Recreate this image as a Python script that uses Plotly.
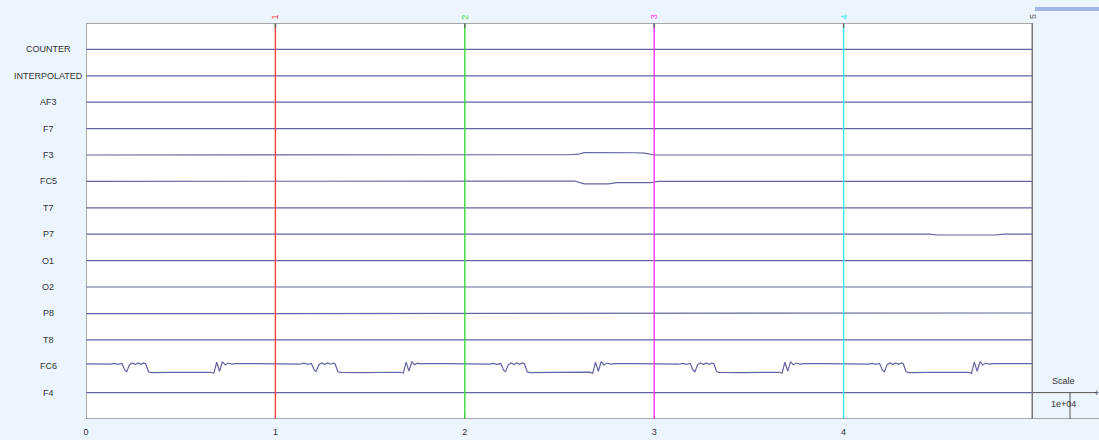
import plotly.graph_objects as go

# ---------------- data ----------------
CHANNELS = ["COUNTER", "INTERPOLATED", "AF3", "F7", "F3", "FC5", "T7",
            "P7", "O1", "O2", "P8", "T8", "FC6", "F4"]
SCALE = 1e4  # spacing between channels (uV)

X_TICKS = [0, 1, 2, 3, 4]
X_TICK_LABELS = ["0", "1", "2", "3", "4"]

EVENT_LATENCIES = [1, 2, 3, 4, 5]
EVENT_LABELS = ["1", "2", "3", "4", "5"]
EVENT_COLORS = ["#ff4040", "#33dd33", "#ff33ff", "#33eeee", "#555555"]

# per-channel breakpoints (time in s, value in uV)
FLAT_T = [0.0, 5.0]
FLAT_V = [0, 0]

AF3_T = [0.0, 0.30, 0.31, 0.33, 0.34, 5.0]
AF3_V = [0, 0, 250, 250, 0, 0]

F7_T = [0.0, 0.10, 0.11, 2.50, 2.52, 5.0]
F7_V = [0, 0, 120, 120, 0, 0]

F3_T = [0.0, 1.18, 1.22, 1.60, 1.65, 2.55, 2.60, 2.63, 2.90, 2.95, 3.00, 5.0]
F3_V = [0, 0, 200, 200, 100, 100, 300, 900, 850, 700, 0, 0]

FC5_T = [0.0, 1.18, 1.22, 2.58, 2.63, 2.76, 2.80, 2.98, 3.02, 5.0]
FC5_V = [0, 0, 200, 150, -900, -900, -500, -500, 0, 0]

P7_T = [0.0, 1.50, 1.52, 1.60, 1.62, 4.45, 4.50, 4.80, 4.85, 5.0]
P7_V = [0, 0, -200, -200, 0, 0, -300, -300, 0, 0]

P8_T = [0.0, 0.30, 0.32, 5.0]
P8_V = [-100, -100, 150, 150]

FC6_T = [
    0.000, 0.100, 0.130, 0.150, 0.170, 0.190, 0.205, 0.215, 0.230, 0.245,
    0.260, 0.275, 0.290, 0.305, 0.315, 0.330, 0.345, 0.450, 0.550, 0.660,
    0.675, 0.690, 0.705, 0.720, 0.735, 0.750, 0.770, 0.790, 0.900,
    1.000, 1.100, 1.130, 1.150, 1.170, 1.190, 1.205, 1.215, 1.230, 1.245,
    1.260, 1.275, 1.290, 1.305, 1.315, 1.330, 1.345, 1.450, 1.550, 1.660,
    1.675, 1.690, 1.705, 1.720, 1.735, 1.750, 1.770, 1.790, 1.900,
    2.000, 2.100, 2.130, 2.150, 2.170, 2.190, 2.205, 2.215, 2.230, 2.245,
    2.260, 2.275, 2.290, 2.305, 2.315, 2.330, 2.345, 2.450, 2.550, 2.660,
    2.675, 2.690, 2.705, 2.720, 2.735, 2.750, 2.770, 2.790, 2.900,
    3.000, 3.100, 3.130, 3.150, 3.170, 3.190, 3.205, 3.215, 3.230, 3.245,
    3.260, 3.275, 3.290, 3.305, 3.315, 3.330, 3.345, 3.450, 3.550, 3.660,
    3.675, 3.690, 3.705, 3.720, 3.735, 3.750, 3.770, 3.790, 3.900,
    4.000, 4.100, 4.130, 4.150, 4.170, 4.190, 4.205, 4.215, 4.230, 4.245,
    4.260, 4.275, 4.290, 4.305, 4.315, 4.330, 4.345, 4.450, 4.550, 4.660,
    4.675, 4.690, 4.705, 4.720, 4.735, 4.750, 4.770, 4.790, 4.900, 5.000,
]
FC6_V = [
    900, 950, 800, 1100, 700, 1050, -1500, -2100, 600, 1200,
    600, 1250, 700, 1200, 900, -2100, -2400, -2350, -2400, -2300,
    -2700, 1500, -1900, 1700, 500, 1200, 800, 1000, 950,
    950, 950, 750, 1150, 700, 1050, -1400, -2000, 650, 1250,
    650, 1200, 750, 1150, 900, -2100, -2350, -2400, -2350, -2300,
    -2600, 1550, -1800, 1650, 550, 1150, 850, 1000, 950,
    950, 900, 800, 1100, 700, 1000, -1500, -2050, 600, 1200,
    600, 1250, 700, 1200, 900, -2150, -2400, -2350, -2400, -2250,
    -2700, 1500, -1900, 1700, 500, 1200, 800, 1000, 950,
    950, 950, 750, 1100, 700, 1050, -1450, -2100, 650, 1200,
    650, 1250, 700, 1150, 900, -2100, -2350, -2400, -2350, -2300,
    -2650, 1500, -1850, 1650, 550, 1200, 800, 1000, 950,
    950, 950, 800, 1100, 700, 1050, -1500, -2100, 600, 1250,
    600, 1200, 700, 1200, 900, -2100, -2400, -2350, -2400, -2300,
    -2700, 1550, -1900, 1700, 500, 1200, 800, 1000, 950, 950,
]

CHANNEL_DATA = {
    "COUNTER": (FLAT_T, FLAT_V),
    "INTERPOLATED": (FLAT_T, FLAT_V),
    "AF3": (AF3_T, AF3_V),
    "F7": (F7_T, F7_V),
    "F3": (F3_T, F3_V),
    "FC5": (FC5_T, FC5_V),
    "T7": (FLAT_T, FLAT_V),
    "P7": (P7_T, P7_V),
    "O1": (FLAT_T, FLAT_V),
    "O2": (FLAT_T, FLAT_V),
    "P8": (P8_T, P8_V),
    "T8": (FLAT_T, FLAT_V),
    "FC6": (FC6_T, FC6_V),
    "F4": (FLAT_T, FLAT_V),
}

# ---------------- layout constants ----------------
W, H = 1099, 440
ML, MR, MT, MB = 86, 66, 23, 21
PW = W - ML - MR
PH = H - MT - MB
BG = "rgb(236,244,253)"
TRACE_COLOR = "rgb(100,100,162)"
FONT = "Liberation Sans, Arial, sans-serif"
NCH = len(CHANNELS)
YMAX = (NCH + 1) * SCALE


def px_x(p):
    return (p - ML) / PW


def px_y(p):
    return (H - MB - p) / PH


fig = go.Figure()

for k, ch in enumerate(CHANNELS):
    t, v = CHANNEL_DATA[ch]
    offset = (NCH - k) * SCALE
    fig.add_trace(go.Scatter(
        x=t, y=[offset + val for val in v], mode="lines",
        line=dict(color=TRACE_COLOR, width=1.2), hoverinfo="skip",
        showlegend=False,
    ))

shapes = []
annotations = []

# event lines and labels
for lat, lab, col in zip(EVENT_LATENCIES, EVENT_LABELS, EVENT_COLORS):
    if lat < 5:
        shapes.append(dict(type="line", xref="x", yref="y", x0=lat, x1=lat,
                           y0=0, y1=YMAX, line=dict(color=col, width=1.4),
                           layer="above"))
        shapes.append(dict(type="line", xref="x", yref="paper", x0=lat, x1=lat,
                           y0=1, y1=1 - 5 / PH, line=dict(color="#666666", width=1.4),
                           layer="above"))
    annotations.append(dict(x=lat, xref="x", y=px_y(17), yref="paper",
                            text=lab, showarrow=False, textangle=-90,
                            xanchor="center", yanchor="middle",
                            font=dict(family=FONT, size=9, color=col)))

# channel labels
for k, ch in enumerate(CHANNELS):
    annotations.append(dict(x=px_x(48), xref="paper", y=(NCH - k) * SCALE, yref="y",
                            text=ch, showarrow=False, xanchor="center", yanchor="middle",
                            font=dict(family=FONT, size=9, color="#333333")))

# frame
frame_col = "#8a8a8a"
shapes += [
    dict(type="line", xref="x", yref="y", x0=0, x1=0, y0=0, y1=YMAX,
         line=dict(color=frame_col, width=1.5), layer="above"),
    dict(type="line", xref="x", yref="y", x0=0, x1=5, y0=YMAX, y1=YMAX,
         line=dict(color=frame_col, width=1.5), layer="above"),
    dict(type="line", xref="paper", yref="y", x0=0, x1=px_x(1099), y0=0, y1=0,
         line=dict(color=frame_col, width=1.5), layer="above"),
    dict(type="line", xref="x", yref="y", x0=5, x1=5, y0=0, y1=YMAX,
         line=dict(color="#777777", width=3), layer="above"),
]

# scale panel
shapes += [
    dict(type="line", xref="paper", yref="y", x0=1.0, x1=px_x(1096), y0=SCALE, y1=SCALE,
         line=dict(color="#555555", width=1)),
    dict(type="line", xref="paper", yref="y", x0=px_x(1070), x1=px_x(1070), y0=0, y1=SCALE,
         line=dict(color="#555555", width=1)),
    dict(type="rect", xref="paper", yref="paper", x0=px_x(1035), x1=px_x(1099),
         y0=px_y(11), y1=px_y(7), line=dict(width=0), fillcolor="rgb(160,182,232)"),
]
annotations += [
    dict(x=px_x(1063), xref="paper", y=px_y(381), yref="paper", text="Scale",
         xanchor="center", yanchor="middle",
         showarrow=False, font=dict(family=FONT, size=9, color="#333333")),
    dict(x=px_x(1063), xref="paper", y=px_y(404), yref="paper", text="1e+04",
         xanchor="center", yanchor="middle",
         showarrow=False, font=dict(family=FONT, size=9, color="#333333")),
    dict(x=px_x(1096), xref="paper", y=SCALE, yref="y", text="+",
         xanchor="center", yanchor="middle",
         showarrow=False, font=dict(family=FONT, size=9, color="#333333")),
]

fig.update_layout(
    width=W, height=H,
    margin=dict(l=ML, r=MR, t=MT, b=MB, pad=0, autoexpand=False),
    paper_bgcolor=BG, plot_bgcolor="white",
    shapes=shapes, annotations=annotations,
    xaxis=dict(range=[0, 5], tickvals=X_TICKS, ticktext=X_TICK_LABELS,
               ticks="inside", ticklen=5, tickcolor="#666666", tickwidth=1.3,
               showgrid=False, zeroline=False, showline=False, automargin=False,
               tickfont=dict(family=FONT, size=9, color="#333333"),
               ticklabelstandoff=6),
    yaxis=dict(range=[0, YMAX], showticklabels=False, showgrid=False,
               zeroline=False, showline=False, ticks="", automargin=False),
)

fig.write_html("out.html", config={"displayModeBar": False})

# remove the default page margin so the figure sits at the window's top-left corner
with open("out.html", "r", encoding="utf-8") as fh:
    html = fh.read()
html = html.replace("<head>", "<head><style>html,body{margin:0;padding:0;overflow:hidden;}</style>", 1)
with open("out.html", "w", encoding="utf-8") as fh:
    fh.write(html)
